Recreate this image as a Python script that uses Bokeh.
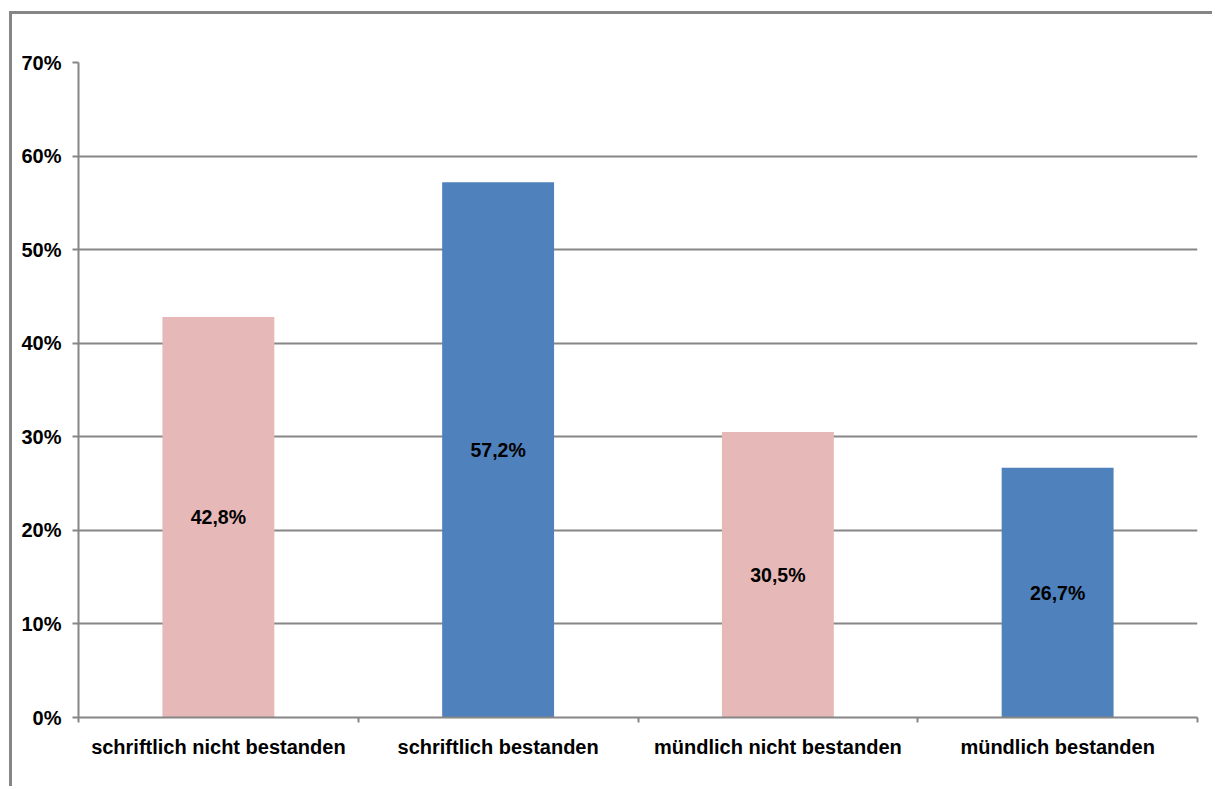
from bokeh.plotting import figure
from bokeh.models import FixedTicker, NumeralTickFormatter, Range1d, ColumnDataSource
from bokeh.embed import file_html
from bokeh.resources import INLINE
from bokeh.core.properties import value

categories = ["schriftlich nicht bestanden", "schriftlich bestanden",
              "mündlich nicht bestanden", "mündlich bestanden"]
values = [42.8, 57.2, 30.5, 26.7]
bar_colors = ["#E6B8B7", "#4F81BD", "#E6B8B7", "#4F81BD"]
y_ticks = [0, 10, 20, 30, 40, 50, 60, 70]

GRAY = "#868686"
FONT = "Liberation Sans"

xs = [i + 0.5 for i in range(len(categories))]
src = ColumnDataSource(dict(
    x=xs,
    top=[v / 100 for v in values],
    mid=[v / 200 for v in values],
    color=bar_colors,
    label=[f"{v:.1f}".replace(".", ",") + "%" for v in values],
))

p = figure(width=1203, height=775, output_backend="svg", toolbar_location=None,
           x_range=Range1d(0, len(categories)), y_range=Range1d(0, 0.7),
           min_border_left=66, min_border_right=18, min_border_top=48, min_border_bottom=72,
           styles={"margin-left": "9px", "margin-top": "11px",
                   "border-left": "3px solid #868686", "border-top": "3px solid #868686"})
p.outline_line_color = None
p.background_fill_color = "white"
p.border_fill_color = "white"

p.vbar(x="x", top="top", width=0.4, color="color", source=src, line_color=None)
p.text(x="x", y="mid", text="label", source=src, text_align="center",
       text_baseline="middle", text_font=value(FONT), text_font_style="bold",
       text_font_size="19.5px", text_color="black")

# x axis
p.xaxis.ticker = FixedTicker(ticks=xs, minor_ticks=list(range(len(categories) + 1)))
p.xaxis.major_label_overrides = {x: c for x, c in zip(xs, categories)}
p.xaxis.major_tick_line_color = None
p.xaxis.minor_tick_line_color = GRAY
p.xaxis.minor_tick_line_width = 2
p.xaxis.minor_tick_out = 5
p.xaxis.minor_tick_in = 0
p.xaxis.axis_line_color = GRAY
p.xaxis.axis_line_width = 2
p.xaxis.major_label_text_font = FONT
p.xaxis.major_label_text_font_style = "bold"
p.xaxis.major_label_text_font_size = "20px"
p.xaxis.major_label_text_color = "black"
p.xaxis.major_label_standoff = 12

# y axis
p.yaxis.ticker = FixedTicker(ticks=[t / 100 for t in y_ticks], minor_ticks=[])
p.yaxis.formatter = NumeralTickFormatter(format="0%")
p.yaxis.axis_line_color = GRAY
p.yaxis.axis_line_width = 2
p.yaxis.major_tick_line_color = GRAY
p.yaxis.major_tick_line_width = 2
p.yaxis.major_tick_out = 6
p.yaxis.major_tick_in = 0
p.yaxis.minor_tick_line_color = None
p.yaxis.major_label_text_font = FONT
p.yaxis.major_label_text_font_style = "bold"
p.yaxis.major_label_text_font_size = "20px"
p.yaxis.major_label_text_color = "black"
p.yaxis.major_label_standoff = 11

p.xgrid.grid_line_color = None
p.ygrid.grid_line_color = GRAY
p.ygrid.grid_line_width = 2
p.ygrid.level = "underlay"

open("out.html", "w").write(file_html(p, INLINE))
